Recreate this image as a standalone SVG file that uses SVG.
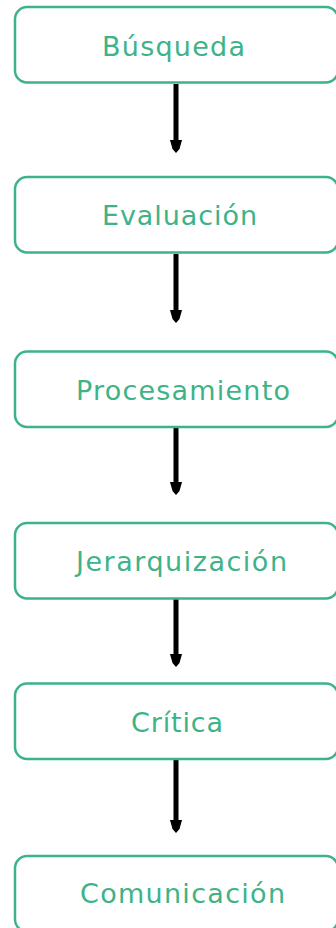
<svg xmlns="http://www.w3.org/2000/svg" width="336" height="928" viewBox="0 0 336 928">
<style>
.box{fill:#ffffff;stroke:#3db387;stroke-width:2.5}
.lbl{font-family:"DejaVu Sans","Open Sans",sans-serif;font-size:27px;fill:#3db387;dominant-baseline:central}
.conn{stroke:#000;stroke-width:5;fill:none}
</style>
<defs>
<marker id="ah" markerUnits="userSpaceOnUse" markerWidth="14" markerHeight="14" viewBox="0 0 14 14" refX="1" refY="7" orient="auto">
<path d="M0,1 L9,3.5 L13,7 L9,10.5 L0,13 Z" fill="#000"/>
</marker>
</defs>
<rect width="336" height="928" fill="#ffffff"/>
<g id="connectors">
<line class="conn" x1="176" y1="84" x2="176" y2="141" marker-end="url(#ah)"/>
<line class="conn" x1="176" y1="254" x2="176" y2="311" marker-end="url(#ah)"/>
<line class="conn" x1="176" y1="428" x2="176" y2="483" marker-end="url(#ah)"/>
<line class="conn" x1="176" y1="599" x2="176" y2="655" marker-end="url(#ah)"/>
<line class="conn" x1="176" y1="760" x2="176" y2="821" marker-end="url(#ah)"/>
</g>
<g id="n1"><rect class="box" x="15" y="7" width="323" height="75.5" rx="12"/><text class="lbl" x="102" y="46" textLength="143" lengthAdjust="spacing">Búsqueda</text></g>
<g id="n2"><rect class="box" x="15" y="177" width="323" height="75.5" rx="12"/><text class="lbl" x="102" y="215" textLength="155" lengthAdjust="spacing">Evaluación</text></g>
<g id="n3"><rect class="box" x="15" y="351.5" width="323" height="75.5" rx="12"/><text class="lbl" x="76" y="390" textLength="214" lengthAdjust="spacing">Procesamiento</text></g>
<g id="n4"><rect class="box" x="15" y="523" width="323" height="75.5" rx="12"/><text class="lbl" x="76" y="561" textLength="211" lengthAdjust="spacing">Jerarquización</text></g>
<g id="n5"><rect class="box" x="15" y="683.5" width="323" height="75.5" rx="12"/><text class="lbl" x="131" y="722" textLength="92" lengthAdjust="spacing">Crítica</text></g>
<g id="n6"><rect class="box" x="15" y="856" width="323" height="75.5" rx="12"/><text class="lbl" x="80" y="893" textLength="205" lengthAdjust="spacing">Comunicación</text></g>
</svg>
